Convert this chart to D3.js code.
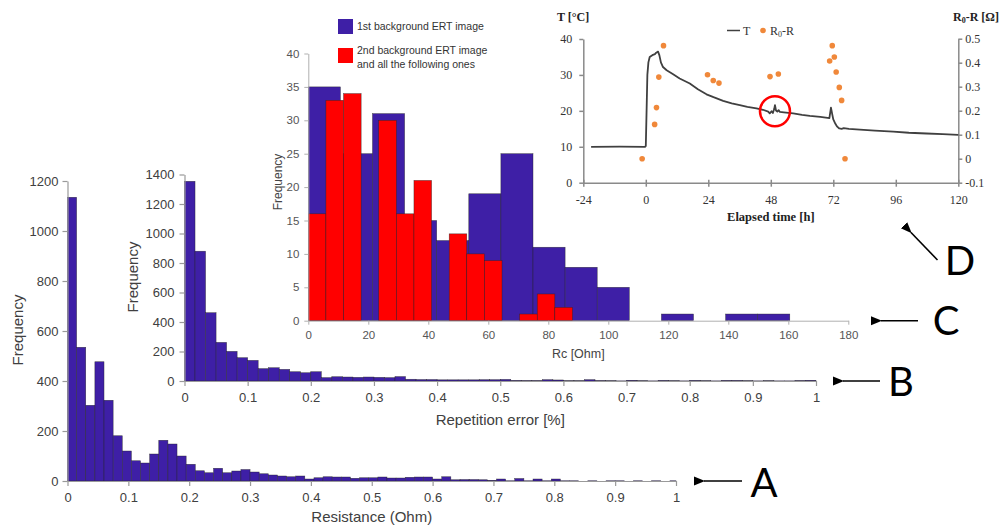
<!DOCTYPE html>
<html><head><meta charset="utf-8">
<script src="https://cdn.jsdelivr.net/npm/d3@7"></script>
<style>body{margin:0;background:#fff}svg{display:block}</style>
</head><body>
<svg id="c" width="999" height="527"></svg>
<script>
// ---------- Panel A : Resistance histogram ----------
const aBinWidth = 0.015;
const aCounts = [1135, 535, 303, 477, 323, 181, 120, 81, 72, 108, 163, 148, 100, 67, 41, 33, 51, 33, 40, 46,
  36, 29, 24, 20, 17, 20, 8, 13, 17, 16, 16, 11, 13, 13, 16, 12, 12, 15, 16, 16,
  8, 17, 5, 6, 6, 5, 3, 8, 1, 10, 1, 8, 1, 8, 1, 1, 0, 1, 0, 1, 1, 0, 1, 0, 1, 0, 1];
const aXTicks = [0, 0.1, 0.2, 0.3, 0.4, 0.5, 0.6, 0.7, 0.8, 0.9, 1];
const aYTicks = [0, 200, 400, 600, 800, 1000, 1200];
const aXLabel = "Resistance (Ohm)";

// ---------- Panel B : Repetition error histogram ----------
const bBinWidth = 1 / 60;
const bCounts = [1354, 880, 463, 262, 201, 158, 140, 84, 90, 79, 63, 56, 63, 23, 29, 27, 25, 27, 25, 23,
  30, 12, 10, 10, 8, 8, 8, 8, 9, 9, 11, 4, 3, 3, 9, 7, 2, 2, 9, 3,
  2, 1, 5, 2, 1, 4, 2, 1, 4, 2, 1, 4, 4, 2, 1, 2, 1, 1, 3, 5];
const bXTicks = [0, 0.1, 0.2, 0.3, 0.4, 0.5, 0.6, 0.7, 0.8, 0.9, 1];
const bYTicks = [0, 200, 400, 600, 800, 1000, 1200, 1400];
const bXLabel = "Repetition error [%]";

// ---------- Panel C : Rc histograms ----------
const cBlueBinWidth = 10.7;
const cBlueCounts = [35, 25, 31, 15, 12, 19, 25, 11, 8, 5, 0, 1, 0, 1, 1];
const cRedBinWidth = 5.87;
const cRedCounts = [16, 33, 34, 0, 30, 16, 21, 0, 13, 10, 9, 0, 1, 4, 2];
const cXTicks = [0, 20, 40, 60, 80, 100, 120, 140, 160, 180];
const cYTicks = [0, 5, 10, 15, 20, 25, 30, 35, 40];
const cXLabel = "Rc [Ohm]";
const cLegendLines = [["1st background ERT image"], ["2nd background ERT image", "and all the following ones"]];

// ---------- Panel D : temperature & resistance change ----------
const dTemp = [[-21, 10], [-10, 10.05], [-0.3, 10], [0, 10.2], [0.3, 20], [0.6, 30], [1, 33.5], [1.5, 35],
  [2.5, 35.5], [3.5, 35.8], [4, 36.2], [4.7, 36.5], [5.2, 35.5], [5.8, 33.5], [6.6, 32.2], [8, 31.3],
  [10.5, 30.2], [13, 29], [16.9, 27.6], [20, 26], [23.3, 24.6], [26, 23.8], [29.7, 22.8], [33, 22.1],
  [36.1, 21.6], [39, 21.1], [42.5, 20.7], [45, 20.3], [47, 19.8], [47.6, 19.3], [48.3, 19.9], [48.8, 19.4],
  [49.3, 20.5], [49.6, 21.6], [50, 20.1], [50.5, 19.8], [51, 20.2], [51.5, 19.7], [53, 19.6], [56.6, 19.3],
  [60, 18.9], [63, 18.6], [67, 18.3], [70.5, 18.0], [71.1, 20.9], [71.6, 19], [72, 17.6], [72.8, 16.4],
  [73.5, 15.6], [74.3, 15.1], [75.2, 15.0], [76, 15.2], [78, 15.0], [82.2, 14.8], [88, 14.5], [95, 14.2],
  [101, 13.9], [107.8, 13.7], [114, 13.5], [120, 13.3]];
const dR = [[-1.4, 0.0], [3.4, 0.143], [4.1, 0.213], [5.0, 0.34], [6.8, 0.471], [23.7, 0.35], [25.9, 0.326],
  [28.1, 0.315], [47.7, 0.342], [50.9, 0.353], [70.6, 0.407], [71.6, 0.471], [72.4, 0.424], [73.1, 0.361],
  [74.3, 0.297], [75.2, 0.243], [76.5, 0.0]];
const dXTicks = [-24, 0, 24, 48, 72, 96, 120];
const dYLeftTicks = [0, 10, 20, 30, 40];
const dYRightTicks = [-0.1, 0, 0.1, 0.2, 0.3, 0.4, 0.5];
const dHighlight = [49.6, 19.9];
const dXLabel = "Elapsed time [h]";

const panelLetters = ["A", "B", "C", "D"];

// ---------------------------------------------------------------
const svg = d3.select("#c");
const SANS = "'Liberation Sans', Arial, sans-serif";
const SERIF = "'Liberation Serif', 'Times New Roman', serif";
const PURPLE = "#3e1fa6";
const AXIS = "#9a9a9a";
const TXT = "#404040";
const fmt1 = d => String(+d.toFixed(1));
const fmtInt = d => String(d);

function styleAxis(g, fontSize, family, color, lineColor, width) {
  g.selectAll(".domain").attr("stroke", lineColor).attr("stroke-width", width || 1.2);
  g.selectAll(".tick line").attr("stroke", lineColor).attr("stroke-width", width || 1.2);
  g.selectAll(".tick text").attr("fill", color).style("font-family", family).style("font-size", fontSize + "px");
}

function histogram(g, counts, binW, maxX, x, y, fill) {
  const bins = counts.map((c, i) => ({ x0: i * binW, x1: Math.min((i + 1) * binW, maxX), c }))
    .filter(d => d.c > 0);
  g.selectAll("rect.bar").data(bins).join("rect").attr("class", "bar")
    .attr("x", d => x(d.x0)).attr("width", d => Math.max(0, x(d.x1) - x(d.x0)))
    .attr("y", d => y(d.c)).attr("height", d => y(0) - y(d.c))
    .attr("fill", fill).attr("stroke", "#262626").attr("stroke-width", 0.5).attr("stroke-opacity", 0.8);
}

// ---------- Panel A ----------
{
  const x = d3.scaleLinear().domain([0, 1]).range([67.5, 676]);
  const y = d3.scaleLinear().domain([0, 1200]).range([481, 181]);
  const g = svg.append("g");
  histogram(g, aCounts, aBinWidth, 1, x, y, PURPLE);
  const xa = g.append("g").attr("transform", `translate(0,${y(0)})`)
    .call(d3.axisBottom(x).tickValues(aXTicks).tickFormat(fmt1).tickSize(5).tickSizeOuter(0).tickPadding(7));
  styleAxis(xa, 13, SANS, TXT, AXIS);
  const ya = g.append("g").attr("transform", `translate(${x(0)},0)`)
    .call(d3.axisLeft(y).tickValues(aYTicks).tickFormat(fmtInt).tickSize(5).tickSizeOuter(0).tickPadding(4));
  styleAxis(ya, 13, SANS, TXT, AXIS);
  g.append("text").attr("x", (x(0) + x(1)) / 2).attr("y", 522).attr("text-anchor", "middle")
    .style("font-family", SANS).style("font-size", "15px").attr("fill", TXT).text(aXLabel);
  g.append("text").attr("transform", "translate(23,330) rotate(-90)").attr("text-anchor", "middle")
    .style("font-family", SANS).style("font-size", "15px").attr("fill", TXT).text("Frequency");
}

// ---------- Panel B ----------
{
  const x = d3.scaleLinear().domain([0, 1]).range([184.5, 816]);
  const y = d3.scaleLinear().domain([0, 1400]).range([381, 174.5]);
  const g = svg.append("g");
  histogram(g, bCounts, bBinWidth, 1, x, y, PURPLE);
  const xa = g.append("g").attr("transform", `translate(0,${y(0)})`)
    .call(d3.axisBottom(x).tickValues(bXTicks).tickFormat(fmt1).tickSize(5).tickSizeOuter(0).tickPadding(7));
  styleAxis(xa, 13, SANS, TXT, AXIS);
  const ya = g.append("g").attr("transform", `translate(${x(0)},0)`)
    .call(d3.axisLeft(y).tickValues(bYTicks).tickFormat(fmtInt).tickSize(5).tickSizeOuter(0).tickPadding(5));
  styleAxis(ya, 13, SANS, TXT, AXIS);
  g.append("text").attr("x", (x(0) + x(1)) / 2).attr("y", 425).attr("text-anchor", "middle")
    .style("font-family", SANS).style("font-size", "15px").attr("fill", TXT).text(bXLabel);
  g.append("text").attr("transform", "translate(138,277) rotate(-90)").attr("text-anchor", "middle")
    .style("font-family", SANS).style("font-size", "15px").attr("fill", TXT).text("Frequency");
}

// ---------- Panel C ----------
{
  const x = d3.scaleLinear().domain([0, 180]).range([308.3, 848.3]);
  const y = d3.scaleLinear().domain([0, 40]).range([320.7, 53.5]);
  const g = svg.append("g");
  const gb = g.append("g"), gr = g.append("g");
  histogram(gb, cBlueCounts, cBlueBinWidth, 180, x, y, PURPLE);
  histogram(gr, cRedCounts, cRedBinWidth, 180, x, y, "#ff0000");
  const xa = g.append("g").attr("transform", `translate(0,${y(0)})`)
    .call(d3.axisBottom(x).tickValues(cXTicks).tickFormat(fmtInt).tickSize(4).tickSizeOuter(0).tickPadding(6));
  styleAxis(xa, 11.5, SANS, "#555", "#b0b0b0", 1);
  const ya = g.append("g").attr("transform", `translate(${x(0)},0)`)
    .call(d3.axisLeft(y).tickValues(cYTicks).tickFormat(fmtInt).tickSize(4).tickSizeOuter(0).tickPadding(5));
  styleAxis(ya, 11.5, SANS, "#555", "#b0b0b0", 1);
  g.append("text").attr("x", (x(0) + x(180)) / 2).attr("y", 358).attr("text-anchor", "middle")
    .style("font-family", SANS).style("font-size", "12.5px").attr("fill", "#444").text(cXLabel);
  g.append("text").attr("transform", "translate(282,182) rotate(-90)").attr("text-anchor", "middle")
    .style("font-family", SANS).style("font-size", "12px").attr("fill", "#444").text("Frequency");
  // legend
  const leg = g.append("g");
  const legColors = [PURPLE, "#ff0000"];
  const legTops = [19, 48];
  cLegendLines.forEach((lines, i) => {
    leg.append("rect").attr("x", 338).attr("y", legTops[i]).attr("width", 15).attr("height", 15)
      .attr("fill", legColors[i]);
    lines.forEach((t, j) => {
      leg.append("text").attr("x", 357).attr("y", legTops[i] + (lines.length === 1 ? 11 : 6 + j * 13.5))
        .style("font-family", SANS).style("font-size", "10.5px").attr("fill", "#333").text(t);
    });
  });
}

// ---------- Panel D ----------
{
  const x = d3.scaleLinear().domain([-24, 120]).range([583.3, 958.3]);
  const yL = d3.scaleLinear().domain([0, 40]).range([182.7, 39]);
  const yR = d3.scaleLinear().domain([-0.1, 0.5]).range([182.7, 38.7]);
  const g = svg.append("g");
  const DAX = "#8a8a8a";
  const xa = g.append("g").attr("transform", `translate(0,${yL(0)})`)
    .call(d3.axisBottom(x).tickValues(dXTicks).tickFormat(fmtInt).tickSize(4).tickSizeOuter(0).tickPadding(9));
  styleAxis(xa, 12, SERIF, "#333", DAX, 1.5);
  xa.selectAll(".tick line").attr("y1", -3);
  const ya = g.append("g").attr("transform", `translate(${x(-24)},0)`)
    .call(d3.axisLeft(yL).tickValues(dYLeftTicks).tickFormat(fmtInt).tickSize(4).tickSizeOuter(0).tickPadding(7));
  styleAxis(ya, 12, SERIF, "#333", DAX, 1.5);
  const yra = g.append("g").attr("transform", `translate(${x(120)},0)`)
    .call(d3.axisRight(yR).tickValues(dYRightTicks).tickFormat(fmt1).tickSize(4).tickSizeOuter(0).tickPadding(3));
  styleAxis(yra, 12, SERIF, "#333", DAX, 1.5);

  const line = d3.line().x(d => x(d[0])).y(d => yL(d[1]));
  g.append("path").datum(dTemp).attr("d", line).attr("fill", "none")
    .attr("stroke", "#404040").attr("stroke-width", 1.8).attr("stroke-linejoin", "round");
  g.selectAll("circle.r").data(dR).join("circle").attr("class", "r")
    .attr("cx", d => x(d[0])).attr("cy", d => yR(d[1])).attr("r", 2.8).attr("fill", "#f0883a");
  g.append("circle").attr("cx", x(dHighlight[0])).attr("cy", yL(dHighlight[1])).attr("r", 15)
    .attr("fill", "none").attr("stroke", "#ff0000").attr("stroke-width", 2.5);

  g.append("text").attr("x", 557).attr("y", 21).style("font-family", SERIF).style("font-weight", "bold")
    .style("font-size", "12px").attr("fill", "#222").text("T [°C]");
  const rl = g.append("text").attr("x", 953).attr("y", 21).style("font-family", SERIF).style("font-weight", "bold")
    .style("font-size", "12px").attr("fill", "#222");
  rl.append("tspan").text("R");
  rl.append("tspan").attr("dy", 2).style("font-size", "8px").text("0");
  rl.append("tspan").attr("dy", -2).text("-R [Ω]");
  g.append("text").attr("x", (x(-24) + x(120)) / 2).attr("y", 221).attr("text-anchor", "middle")
    .style("font-family", SERIF).style("font-weight", "bold").style("font-size", "12.5px").attr("fill", "#222").text(dXLabel);
  // legend
  g.append("line").attr("x1", 727).attr("x2", 740).attr("y1", 30.5).attr("y2", 30.5).attr("stroke", "#404040").attr("stroke-width", 1.5);
  g.append("text").attr("x", 743).attr("y", 34.5).style("font-family", SERIF).style("font-size", "12px").attr("fill", "#333").text("T");
  g.append("circle").attr("cx", 763).attr("cy", 30.5).attr("r", 2.8).attr("fill", "#f0883a");
  const ll = g.append("text").attr("x", 770).attr("y", 34.5).style("font-family", SERIF).style("font-size", "12px").attr("fill", "#333");
  ll.append("tspan").text("R");
  ll.append("tspan").attr("dy", 2).style("font-size", "8px").text("0");
  ll.append("tspan").attr("dy", -2).text("-R");
}

// ---------- Arrows & letters ----------
svg.append("defs").append("marker").attr("id", "ah").attr("viewBox", "0 0 10 10").attr("refX", 1).attr("refY", 5)
  .attr("markerWidth", 7).attr("markerHeight", 7).attr("orient", "auto-start-reverse")
  .append("path").attr("d", "M0,5 L10,1 L10,9 Z").attr("fill", "#000");
const arrows = [
  { x1: 742, y1: 481, x2: 704, y2: 481, lx: 764, ly: 497 },
  { x1: 880, y1: 381, x2: 843, y2: 381, lx: 901, ly: 396 },
  { x1: 918, y1: 320.7, x2: 881, y2: 320.7, lx: 946, ly: 335 },
  { x1: 937.5, y1: 260, x2: 911, y2: 232.5, lx: 960, ly: 275 }
];
arrows.forEach((a, i) => {
  svg.append("line").attr("x1", a.x1).attr("y1", a.y1).attr("x2", a.x2).attr("y2", a.y2)
    .attr("stroke", "#000").attr("stroke-width", 1.6).attr("marker-end", "url(#ah)");
  svg.append("text").attr("x", a.lx).attr("y", a.ly).attr("text-anchor", "middle")
    .style("font-family", "Lato, 'Open Sans', sans-serif").style("font-size", "40px").attr("fill", "#000")
    .text(panelLetters[i]);
});
</script>
</body></html>
